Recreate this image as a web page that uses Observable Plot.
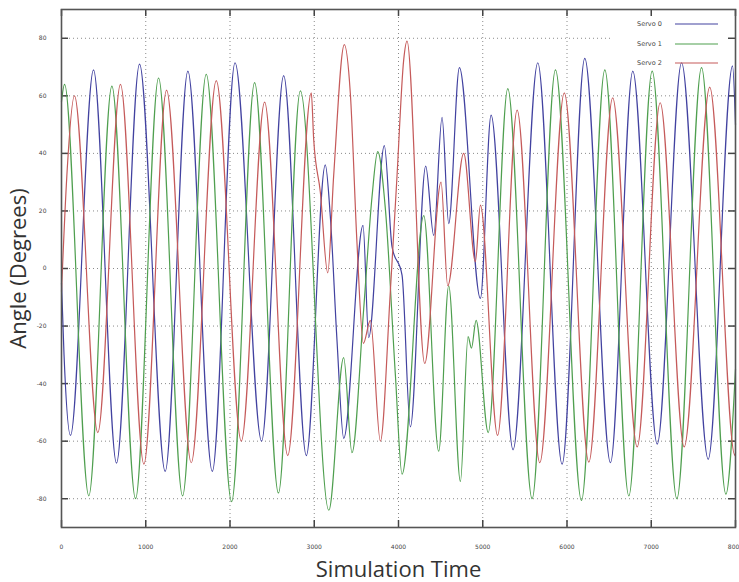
<!DOCTYPE html>
<html><head><meta charset="utf-8">
<script src="https://cdn.jsdelivr.net/npm/d3@7"></script>
<script src="https://cdn.jsdelivr.net/npm/@observablehq/plot@0.6"></script>
<style>
body{margin:0;background:#fff;}
#wrap{position:relative;width:739px;height:582px;}
#legend{position:absolute;left:0;top:0;pointer-events:none;}
g[aria-label="y-axis label"] text, g[aria-label="x-axis label"] text{font-family:"Open Sans";font-size:22px;fill:#333;}
g[aria-label="x-axis tick label"] text, g[aria-label="y-axis tick label"] text{fill:#444;}
</style></head><body><div id="wrap"></div>
<script>
const seriesNames = ["Servo 0", "Servo 1", "Servo 2"];
const seriesColors = ["#4242a0", "#4f9f4f", "#c55a5a"];

const servo0Time  = [0, 30, 107, 380, 653, 926, 1231, 1500, 1790, 2060, 2375, 2637, 2906, 3131, 3191, 3270, 3350, 3579, 3646, 3832, 3923, 4042, 4141, 4323, 4418, 4517, 4596, 4723, 4972, 5099, 5360, 5653, 5942, 6211, 6516, 6781, 7071, 7360, 7676, 7965, 8000];
const servo0Angle = [-5, -30, -58, 69, -67.6, 71, -70.5, 68.6, -70.5, 71.5, -60, 67, -65, 36, 18, -25, -59, 15, -24, 42.7, 7.6, -2.3, -55, 35.6, 11.5, 52.5, 15.6, 69.8, -10.4, 53.3, -63, 71.5, -68, 73, -67.5, 68.6, -61, 71.5, -66.3, 70.4, 50];

const servo1Time  = [0, 36, 324, 598, 879, 1152, 1437, 1718, 2019, 2292, 2575, 2835, 3173, 3349, 3448, 3587, 3686, 3753, 3844, 3963, 4042, 4300, 4477, 4596, 4735, 4826, 4866, 4921, 5065, 5297, 5586, 5863, 6172, 6449, 6734, 7011, 7304, 7597, 7886, 8000];
const servo1Angle = [58, 64, -79, 63.4, -80, 66.2, -79, 67.5, -81, 64.6, -78, 61.7, -84, -31, -64, -14, 25, 40.6, 20.8, -37, -71.5, 18.4, -63.5, -6, -74, -23.7, -27.7, -18, -57, 62.5, -80, 69, -80.6, 69, -79, 68.6, -80, 69.8, -78.4, -35];

const servo2Time  = [0, 63, 154, 431, 700, 978, 1247, 1540, 1837, 2134, 2411, 2685, 2965, 2993, 3072, 3160, 3230, 3357, 3428, 3507, 3583, 3666, 3785, 3903, 3982, 4062, 4101, 4311, 4505, 4584, 4774, 4913, 4972, 5176, 5408, 5677, 5968, 6259, 6542, 6833, 7106, 7391, 7694, 7993, 8000];
const servo2Angle = [-8, 32, 60, -57, 64, -68, 62, -67.5, 65.3, -60, 57.8, -65, 61, 45, 26.6, -1.5, 32, 77.8, 61, 9, -26, -18, -60, -8, 32, 72.6, 79, -33, 30, -6, 40, 2.4, 22, -58, 55, -67.5, 61, -67.3, 59.3, -62, 57.6, -62, 63, -65, -64];

const xTicks = [0, 1000, 2000, 3000, 4000, 5000, 6000, 7000, 8000];
const yTicks = [-80, -60, -40, -20, 0, 20, 40, 60, 80];
const keyLeft = 6520;   // grid is blanked behind the key box
const keyBottom = 67;

const allTimes = [servo0Time, servo1Time, servo2Time];
const allAngles = [servo0Angle, servo1Angle, servo2Angle];
const data = [];
seriesNames.forEach((name, i) => {
  allTimes[i].forEach((t, j) => data.push({series: name, t, angle: allAngles[i][j]}));
});

const innerW = 739 - 61 - 4, innerH = 582 - 9 - 55, tickLen = 7;
const gridStyle = {stroke: "#8a8a8a", strokeOpacity: 1, strokeDasharray: "1,3"};
const fmt = d => String(d);

const chart = Plot.plot({
  width: 739, height: 582,
  marginLeft: 61, marginRight: 4, marginTop: 9, marginBottom: 55,
  style: {background: "#fff", fontFamily: "DejaVu Sans"},
  x: {domain: [0, 8000], label: null},
  y: {domain: [-90, 90], label: null},
  color: {domain: seriesNames, range: seriesColors},
  marks: [
    Plot.ruleX(xTicks.slice(1, -1).filter(d => d < keyLeft), {x: d => d, ...gridStyle}),
    Plot.ruleX(xTicks.slice(1, -1).filter(d => d >= keyLeft), {x: d => d, y1: -90, y2: keyBottom, ...gridStyle}),
    Plot.ruleY(yTicks.filter(d => d < keyBottom), {y: d => d, ...gridStyle}),
    Plot.ruleY(yTicks.filter(d => d >= keyBottom), {y: d => d, x1: 0, x2: keyLeft, ...gridStyle}),
    Plot.tickX(xTicks, {x: d => d, insetBottom: innerH - tickLen, stroke: "#444", strokeWidth: 1.5}),
    Plot.tickX(xTicks, {x: d => d, insetTop: innerH - tickLen, stroke: "#444", strokeWidth: 1.5}),
    Plot.tickY(yTicks, {y: d => d, insetRight: innerW - tickLen, stroke: "#444", strokeWidth: 1.5}),
    Plot.tickY(yTicks, {y: d => d, insetLeft: innerW - tickLen, stroke: "#444", strokeWidth: 1.5}),
    Plot.lineY(data, {x: "t", y: "angle", z: "series", stroke: "series", curve: "monotone-x", strokeWidth: 1.2}),
    Plot.frame({stroke: "#555", strokeWidth: 1.6}),
    Plot.axisX(xTicks, {tickSize: 0, tickPadding: 17, fontSize: 6, tickFormat: fmt, label: "Simulation Time", labelArrow: "none", labelAnchor: "center", labelOffset: 49}),
    Plot.axisY(yTicks, {tickSize: 0, tickPadding: 15, fontSize: 6, tickFormat: fmt, label: "Angle (Degrees)", labelArrow: "none", labelAnchor: "center", labelOffset: 51})
  ]
});
const wrap = document.getElementById("wrap");
wrap.appendChild(chart);

// strip any arrow that an older Plot build may still add to the axis titles
chart.querySelectorAll('g[aria-label$="axis label"] text').forEach(t => {
  t.textContent = t.textContent.replace(/\s*[\u2191\u2193\u2190\u2192]\s*/g, "").trim();
});

// legend (key) in the top-right corner of the frame
const legend = d3.select(wrap).append("svg").attr("id", "legend").attr("width", 739).attr("height", 582);
const rowY = [24, 44, 63];
seriesNames.forEach((name, i) => {
  legend.append("text").attr("x", 637).attr("y", rowY[i]).attr("dy", "0.35em")
    .attr("font-family", "DejaVu Sans").attr("font-size", 6.5).attr("fill", "#444").text(name);
  legend.append("line").attr("x1", 675).attr("x2", 718).attr("y1", rowY[i]).attr("y2", rowY[i])
    .attr("stroke", seriesColors[i]).attr("stroke-width", 1.2);
});
</script></body></html>
